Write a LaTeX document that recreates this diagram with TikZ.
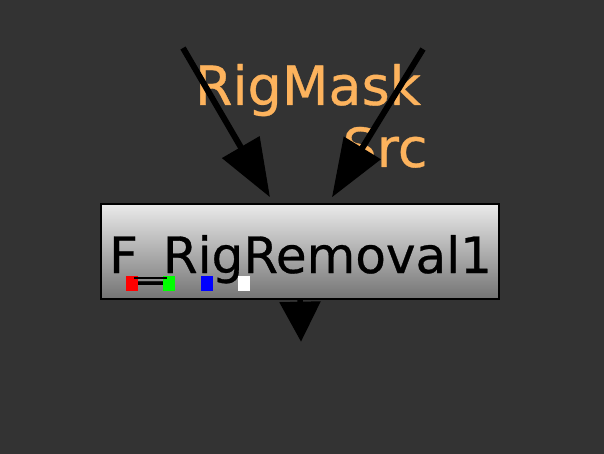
\documentclass[tikz,border=0pt]{standalone}
\usepackage{fontspec}
\newfontfamily\nodefont[FakeBold=0.6]{DejaVu Sans}
\usetikzlibrary{positioning,arrows.meta,calc}
\definecolor{bgdark}{HTML}{333333}
\definecolor{labelorange}{HTML}{FDB35D}
\definecolor{boxtop}{HTML}{EAEAEA}
\definecolor{boxbottom}{HTML}{747474}
\tikzset{rigbox/.style={draw=black,line width=1.5pt,minimum width=398pt,minimum height=95pt,
    inner sep=0pt,top color=boxtop,bottom color=boxbottom},
  chan/.style={fill=#1,minimum width=12pt,minimum height=15pt,inner sep=0pt},
  inlabel/.style={text=labelorange,anchor=base,font=\nodefont\fontsize{54}{60}\selectfont},
  wire/.style={line width=6pt,shorten >=7pt}
}

\begin{document}
\begin{tikzpicture}[x=1pt,y=-1pt,>={Triangle[length=58pt,width=42pt]}]
	\fill[bgdark] (0,0) rectangle (604,454);
	\useasboundingbox (0,0) rectangle (604,454);

	\node[rigbox] (rig) at (300,251.5) {};
	\node[anchor=base,font=\nodefont\fontsize{50}{60}\selectfont] (rigname) at (300.5,273) {F\_RigRemoval1};
	\node[chan=red] (chR) at (132,283.5) {};
	\node[chan=green] (chG) at (169,283.5) {};
	\node[chan=blue] (chB) at (207,283.5) {};
	\node[chan=white] (chA) at (244,283.5) {};
	\draw[line width=2pt] ([shift={(2pt,-2pt)}]chR.north) -- ([shift={(-2pt,-2pt)}]chG.north);

	\node[inlabel] (masklabel) at (308,105) {RigMask};
	\node[inlabel] (srclabel) at (385,167) {Src};

	\coordinate (maskin) at (183,48);
	\coordinate (srcin) at (423,49);
	\coordinate (out) at ($(rig.south)+(1,42)$);
	\draw [->,wire] (maskin) -- ([xshift=-26.5pt]rig.north);
	\draw [->,wire] (srcin) -- ([xshift=28.3pt]rig.north);
	\draw [-{Triangle[length=40pt,width=40pt]},line width=5.5pt] (rig.south) -- (out);
\end{tikzpicture}
\end{document}
